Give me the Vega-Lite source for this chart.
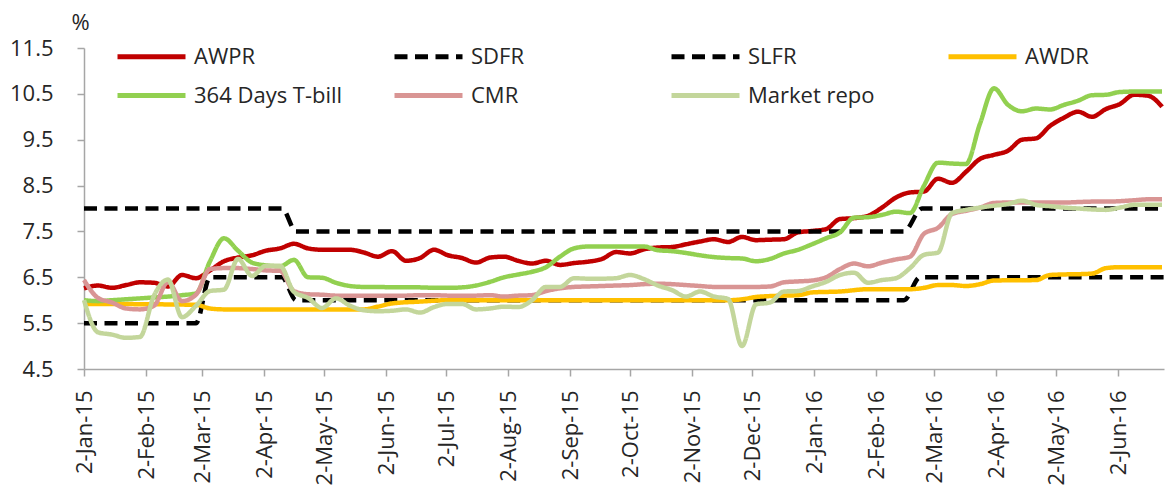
{
  "$schema": "https://vega.github.io/schema/vega-lite/v6.json",
  "width": 1080,
  "height": 321,
  "autosize": {"type": "none"},
  "padding": {"left": 84, "top": 48, "right": 1, "bottom": 120},
  "background": "white",
  "config": {"view": {"stroke": null}, "font": "Open Sans"},
  "data": {"values": [
    {"date":"2015-01-02","series":"AWPR","value":6.26},{"date":"2015-01-09","series":"AWPR","value":6.32},{"date":"2015-01-16","series":"AWPR","value":6.27},{"date":"2015-01-23","series":"AWPR","value":6.33},{"date":"2015-01-30","series":"AWPR","value":6.39},{"date":"2015-02-06","series":"AWPR","value":6.38},{"date":"2015-02-13","series":"AWPR","value":6.30},{"date":"2015-02-20","series":"AWPR","value":6.55},{"date":"2015-02-27","series":"AWPR","value":6.48},{"date":"2015-03-06","series":"AWPR","value":6.65},{"date":"2015-03-13","series":"AWPR","value":6.85},{"date":"2015-03-20","series":"AWPR","value":6.93},{"date":"2015-03-27","series":"AWPR","value":6.98},{"date":"2015-04-03","series":"AWPR","value":7.08},{"date":"2015-04-10","series":"AWPR","value":7.13},{"date":"2015-04-17","series":"AWPR","value":7.23},{"date":"2015-04-24","series":"AWPR","value":7.13},{"date":"2015-05-01","series":"AWPR","value":7.10},{"date":"2015-05-08","series":"AWPR","value":7.10},{"date":"2015-05-15","series":"AWPR","value":7.10},{"date":"2015-05-22","series":"AWPR","value":7.04},{"date":"2015-05-29","series":"AWPR","value":6.95},{"date":"2015-06-05","series":"AWPR","value":7.07},{"date":"2015-06-12","series":"AWPR","value":6.86},{"date":"2015-06-19","series":"AWPR","value":6.92},{"date":"2015-06-26","series":"AWPR","value":7.10},{"date":"2015-07-03","series":"AWPR","value":6.98},{"date":"2015-07-10","series":"AWPR","value":6.92},{"date":"2015-07-17","series":"AWPR","value":6.82},{"date":"2015-07-24","series":"AWPR","value":6.93},{"date":"2015-07-31","series":"AWPR","value":6.95},{"date":"2015-08-07","series":"AWPR","value":6.86},{"date":"2015-08-14","series":"AWPR","value":6.80},{"date":"2015-08-21","series":"AWPR","value":6.86},{"date":"2015-08-28","series":"AWPR","value":6.77},{"date":"2015-09-04","series":"AWPR","value":6.81},{"date":"2015-09-11","series":"AWPR","value":6.84},{"date":"2015-09-18","series":"AWPR","value":6.90},{"date":"2015-09-25","series":"AWPR","value":7.05},{"date":"2015-10-02","series":"AWPR","value":7.02},{"date":"2015-10-09","series":"AWPR","value":7.11},{"date":"2015-10-16","series":"AWPR","value":7.15},{"date":"2015-10-23","series":"AWPR","value":7.16},{"date":"2015-10-30","series":"AWPR","value":7.22},{"date":"2015-11-06","series":"AWPR","value":7.28},{"date":"2015-11-13","series":"AWPR","value":7.33},{"date":"2015-11-20","series":"AWPR","value":7.27},{"date":"2015-11-27","series":"AWPR","value":7.38},{"date":"2015-12-04","series":"AWPR","value":7.31},{"date":"2015-12-11","series":"AWPR","value":7.32},{"date":"2015-12-18","series":"AWPR","value":7.33},{"date":"2015-12-25","series":"AWPR","value":7.48},{"date":"2016-01-01","series":"AWPR","value":7.51},{"date":"2016-01-08","series":"AWPR","value":7.55},{"date":"2016-01-15","series":"AWPR","value":7.77},{"date":"2016-01-22","series":"AWPR","value":7.79},{"date":"2016-01-29","series":"AWPR","value":7.84},{"date":"2016-02-05","series":"AWPR","value":8.02},{"date":"2016-02-12","series":"AWPR","value":8.24},{"date":"2016-02-19","series":"AWPR","value":8.35},{"date":"2016-02-26","series":"AWPR","value":8.37},{"date":"2016-03-04","series":"AWPR","value":8.65},{"date":"2016-03-11","series":"AWPR","value":8.56},{"date":"2016-03-18","series":"AWPR","value":8.80},{"date":"2016-03-25","series":"AWPR","value":9.08},{"date":"2016-04-01","series":"AWPR","value":9.17},{"date":"2016-04-08","series":"AWPR","value":9.26},{"date":"2016-04-15","series":"AWPR","value":9.50},{"date":"2016-04-22","series":"AWPR","value":9.53},{"date":"2016-04-29","series":"AWPR","value":9.80},{"date":"2016-05-06","series":"AWPR","value":9.98},{"date":"2016-05-13","series":"AWPR","value":10.11},{"date":"2016-05-20","series":"AWPR","value":10.00},{"date":"2016-05-27","series":"AWPR","value":10.17},{"date":"2016-06-03","series":"AWPR","value":10.28},{"date":"2016-06-10","series":"AWPR","value":10.48},{"date":"2016-06-17","series":"AWPR","value":10.46},{"date":"2016-06-24","series":"AWPR","value":10.22},

    {"date":"2015-01-02","series":"SDFR","value":5.5},{"date":"2015-02-27","series":"SDFR","value":5.5},{"date":"2015-03-06","series":"SDFR","value":6.5},{"date":"2015-04-11","series":"SDFR","value":6.5},{"date":"2015-04-18","series":"SDFR","value":6.0},{"date":"2016-02-16","series":"SDFR","value":6.0},{"date":"2016-02-24","series":"SDFR","value":6.5},{"date":"2016-06-25","series":"SDFR","value":6.5},

    {"date":"2015-01-02","series":"SLFR","value":8.0},{"date":"2015-04-11","series":"SLFR","value":8.0},{"date":"2015-04-18","series":"SLFR","value":7.5},{"date":"2016-02-16","series":"SLFR","value":7.5},{"date":"2016-02-25","series":"SLFR","value":8.0},{"date":"2016-06-25","series":"SLFR","value":8.0},

    {"date":"2015-01-02","series":"AWDR","value":5.92},{"date":"2015-02-27","series":"AWDR","value":5.90},{"date":"2015-03-06","series":"AWDR","value":5.82},{"date":"2015-03-13","series":"AWDR","value":5.80},{"date":"2015-05-22","series":"AWDR","value":5.80},{"date":"2015-05-29","series":"AWDR","value":5.86},{"date":"2015-06-05","series":"AWDR","value":5.93},{"date":"2015-06-19","series":"AWDR","value":5.97},{"date":"2015-07-03","series":"AWDR","value":6.00},{"date":"2015-11-20","series":"AWDR","value":6.00},{"date":"2015-11-27","series":"AWDR","value":6.02},{"date":"2015-12-04","series":"AWDR","value":6.07},{"date":"2015-12-11","series":"AWDR","value":6.09},{"date":"2015-12-18","series":"AWDR","value":6.10},{"date":"2015-12-25","series":"AWDR","value":6.11},{"date":"2016-01-01","series":"AWDR","value":6.17},{"date":"2016-01-15","series":"AWDR","value":6.19},{"date":"2016-01-29","series":"AWDR","value":6.24},{"date":"2016-02-19","series":"AWDR","value":6.24},{"date":"2016-02-26","series":"AWDR","value":6.27},{"date":"2016-03-04","series":"AWDR","value":6.33},{"date":"2016-03-11","series":"AWDR","value":6.33},{"date":"2016-03-18","series":"AWDR","value":6.31},{"date":"2016-03-25","series":"AWDR","value":6.35},{"date":"2016-04-01","series":"AWDR","value":6.43},{"date":"2016-04-22","series":"AWDR","value":6.44},{"date":"2016-04-29","series":"AWDR","value":6.55},{"date":"2016-05-20","series":"AWDR","value":6.58},{"date":"2016-05-27","series":"AWDR","value":6.70},{"date":"2016-06-03","series":"AWDR","value":6.72},{"date":"2016-06-24","series":"AWDR","value":6.72},

    {"date":"2015-01-02","series":"364 Days T-bill","value":6.00},{"date":"2015-01-09","series":"364 Days T-bill","value":5.98},{"date":"2015-01-16","series":"364 Days T-bill","value":6.00},{"date":"2015-01-23","series":"364 Days T-bill","value":6.02},{"date":"2015-01-30","series":"364 Days T-bill","value":6.04},{"date":"2015-02-06","series":"364 Days T-bill","value":6.06},{"date":"2015-02-13","series":"364 Days T-bill","value":6.08},{"date":"2015-02-20","series":"364 Days T-bill","value":6.11},{"date":"2015-02-27","series":"364 Days T-bill","value":6.15},{"date":"2015-03-06","series":"364 Days T-bill","value":6.85},{"date":"2015-03-13","series":"364 Days T-bill","value":7.35},{"date":"2015-03-20","series":"364 Days T-bill","value":7.08},{"date":"2015-03-27","series":"364 Days T-bill","value":6.82},{"date":"2015-04-03","series":"364 Days T-bill","value":6.76},{"date":"2015-04-10","series":"364 Days T-bill","value":6.74},{"date":"2015-04-17","series":"364 Days T-bill","value":6.88},{"date":"2015-04-24","series":"364 Days T-bill","value":6.50},{"date":"2015-05-01","series":"364 Days T-bill","value":6.49},{"date":"2015-05-08","series":"364 Days T-bill","value":6.38},{"date":"2015-05-15","series":"364 Days T-bill","value":6.31},{"date":"2015-05-22","series":"364 Days T-bill","value":6.29},{"date":"2015-05-29","series":"364 Days T-bill","value":6.29},{"date":"2015-06-05","series":"364 Days T-bill","value":6.28},{"date":"2015-06-12","series":"364 Days T-bill","value":6.28},{"date":"2015-06-19","series":"364 Days T-bill","value":6.28},{"date":"2015-06-26","series":"364 Days T-bill","value":6.27},{"date":"2015-07-03","series":"364 Days T-bill","value":6.27},{"date":"2015-07-10","series":"364 Days T-bill","value":6.28},{"date":"2015-07-17","series":"364 Days T-bill","value":6.32},{"date":"2015-07-24","series":"364 Days T-bill","value":6.40},{"date":"2015-07-31","series":"364 Days T-bill","value":6.50},{"date":"2015-08-07","series":"364 Days T-bill","value":6.56},{"date":"2015-08-14","series":"364 Days T-bill","value":6.62},{"date":"2015-08-21","series":"364 Days T-bill","value":6.72},{"date":"2015-08-28","series":"364 Days T-bill","value":6.95},{"date":"2015-09-04","series":"364 Days T-bill","value":7.13},{"date":"2015-09-11","series":"364 Days T-bill","value":7.17},{"date":"2015-09-18","series":"364 Days T-bill","value":7.17},{"date":"2015-09-25","series":"364 Days T-bill","value":7.17},{"date":"2015-10-02","series":"364 Days T-bill","value":7.17},{"date":"2015-10-09","series":"364 Days T-bill","value":7.17},{"date":"2015-10-16","series":"364 Days T-bill","value":7.09},{"date":"2015-10-23","series":"364 Days T-bill","value":7.07},{"date":"2015-10-30","series":"364 Days T-bill","value":7.03},{"date":"2015-11-06","series":"364 Days T-bill","value":6.98},{"date":"2015-11-13","series":"364 Days T-bill","value":6.94},{"date":"2015-11-20","series":"364 Days T-bill","value":6.92},{"date":"2015-11-27","series":"364 Days T-bill","value":6.91},{"date":"2015-12-04","series":"364 Days T-bill","value":6.85},{"date":"2015-12-11","series":"364 Days T-bill","value":6.90},{"date":"2015-12-18","series":"364 Days T-bill","value":7.02},{"date":"2015-12-25","series":"364 Days T-bill","value":7.10},{"date":"2016-01-01","series":"364 Days T-bill","value":7.22},{"date":"2016-01-08","series":"364 Days T-bill","value":7.35},{"date":"2016-01-15","series":"364 Days T-bill","value":7.48},{"date":"2016-01-22","series":"364 Days T-bill","value":7.80},{"date":"2016-01-29","series":"364 Days T-bill","value":7.81},{"date":"2016-02-05","series":"364 Days T-bill","value":7.86},{"date":"2016-02-12","series":"364 Days T-bill","value":7.93},{"date":"2016-02-19","series":"364 Days T-bill","value":7.90},{"date":"2016-02-26","series":"364 Days T-bill","value":8.50},{"date":"2016-03-04","series":"364 Days T-bill","value":9.00},{"date":"2016-03-11","series":"364 Days T-bill","value":8.98},{"date":"2016-03-18","series":"364 Days T-bill","value":8.97},{"date":"2016-03-25","series":"364 Days T-bill","value":9.85},{"date":"2016-04-01","series":"364 Days T-bill","value":10.62},{"date":"2016-04-08","series":"364 Days T-bill","value":10.26},{"date":"2016-04-15","series":"364 Days T-bill","value":10.12},{"date":"2016-04-22","series":"364 Days T-bill","value":10.18},{"date":"2016-04-29","series":"364 Days T-bill","value":10.16},{"date":"2016-05-06","series":"364 Days T-bill","value":10.26},{"date":"2016-05-13","series":"364 Days T-bill","value":10.35},{"date":"2016-05-20","series":"364 Days T-bill","value":10.47},{"date":"2016-05-27","series":"364 Days T-bill","value":10.48},{"date":"2016-06-03","series":"364 Days T-bill","value":10.54},{"date":"2016-06-10","series":"364 Days T-bill","value":10.55},{"date":"2016-06-17","series":"364 Days T-bill","value":10.55},{"date":"2016-06-24","series":"364 Days T-bill","value":10.55},

    {"date":"2015-01-02","series":"CMR","value":6.44},{"date":"2015-01-09","series":"CMR","value":6.05},{"date":"2015-01-16","series":"CMR","value":5.95},{"date":"2015-01-23","series":"CMR","value":5.82},{"date":"2015-01-30","series":"CMR","value":5.80},{"date":"2015-02-06","series":"CMR","value":5.88},{"date":"2015-02-13","series":"CMR","value":6.40},{"date":"2015-02-20","series":"CMR","value":5.98},{"date":"2015-02-27","series":"CMR","value":6.12},{"date":"2015-03-06","series":"CMR","value":6.68},{"date":"2015-03-13","series":"CMR","value":6.70},{"date":"2015-03-20","series":"CMR","value":6.70},{"date":"2015-03-27","series":"CMR","value":6.68},{"date":"2015-04-03","series":"CMR","value":6.65},{"date":"2015-04-10","series":"CMR","value":6.64},{"date":"2015-04-17","series":"CMR","value":6.20},{"date":"2015-04-24","series":"CMR","value":6.13},{"date":"2015-05-01","series":"CMR","value":6.12},{"date":"2015-05-08","series":"CMR","value":6.10},{"date":"2015-05-15","series":"CMR","value":6.10},{"date":"2015-05-22","series":"CMR","value":6.10},{"date":"2015-05-29","series":"CMR","value":6.10},{"date":"2015-06-05","series":"CMR","value":6.10},{"date":"2015-06-12","series":"CMR","value":6.10},{"date":"2015-06-19","series":"CMR","value":6.11},{"date":"2015-06-26","series":"CMR","value":6.11},{"date":"2015-07-03","series":"CMR","value":6.10},{"date":"2015-07-10","series":"CMR","value":6.10},{"date":"2015-07-17","series":"CMR","value":6.10},{"date":"2015-07-24","series":"CMR","value":6.11},{"date":"2015-07-31","series":"CMR","value":6.08},{"date":"2015-08-07","series":"CMR","value":6.10},{"date":"2015-08-14","series":"CMR","value":6.11},{"date":"2015-08-21","series":"CMR","value":6.20},{"date":"2015-08-28","series":"CMR","value":6.26},{"date":"2015-09-04","series":"CMR","value":6.29},{"date":"2015-09-11","series":"CMR","value":6.30},{"date":"2015-09-18","series":"CMR","value":6.31},{"date":"2015-09-25","series":"CMR","value":6.32},{"date":"2015-10-02","series":"CMR","value":6.33},{"date":"2015-10-09","series":"CMR","value":6.35},{"date":"2015-10-16","series":"CMR","value":6.36},{"date":"2015-10-23","series":"CMR","value":6.35},{"date":"2015-10-30","series":"CMR","value":6.33},{"date":"2015-11-06","series":"CMR","value":6.31},{"date":"2015-11-13","series":"CMR","value":6.29},{"date":"2015-11-20","series":"CMR","value":6.29},{"date":"2015-11-27","series":"CMR","value":6.29},{"date":"2015-12-04","series":"CMR","value":6.29},{"date":"2015-12-11","series":"CMR","value":6.30},{"date":"2015-12-18","series":"CMR","value":6.39},{"date":"2015-12-25","series":"CMR","value":6.41},{"date":"2016-01-01","series":"CMR","value":6.43},{"date":"2016-01-08","series":"CMR","value":6.50},{"date":"2016-01-15","series":"CMR","value":6.68},{"date":"2016-01-22","series":"CMR","value":6.80},{"date":"2016-01-29","series":"CMR","value":6.74},{"date":"2016-02-05","series":"CMR","value":6.82},{"date":"2016-02-12","series":"CMR","value":6.89},{"date":"2016-02-19","series":"CMR","value":6.95},{"date":"2016-02-26","series":"CMR","value":7.45},{"date":"2016-03-04","series":"CMR","value":7.58},{"date":"2016-03-11","series":"CMR","value":7.88},{"date":"2016-03-18","series":"CMR","value":7.95},{"date":"2016-03-25","series":"CMR","value":8.02},{"date":"2016-04-01","series":"CMR","value":8.12},{"date":"2016-04-08","series":"CMR","value":8.13},{"date":"2016-04-15","series":"CMR","value":8.13},{"date":"2016-04-22","series":"CMR","value":8.13},{"date":"2016-04-29","series":"CMR","value":8.13},{"date":"2016-05-06","series":"CMR","value":8.13},{"date":"2016-05-13","series":"CMR","value":8.14},{"date":"2016-05-20","series":"CMR","value":8.15},{"date":"2016-05-27","series":"CMR","value":8.15},{"date":"2016-06-03","series":"CMR","value":8.16},{"date":"2016-06-10","series":"CMR","value":8.18},{"date":"2016-06-17","series":"CMR","value":8.20},{"date":"2016-06-24","series":"CMR","value":8.20},

    {"date":"2015-01-02","series":"Market repo","value":6.00},{"date":"2015-01-09","series":"Market repo","value":5.30},{"date":"2015-01-16","series":"Market repo","value":5.25},{"date":"2015-01-23","series":"Market repo","value":5.18},{"date":"2015-01-30","series":"Market repo","value":5.20},{"date":"2015-02-06","series":"Market repo","value":6.10},{"date":"2015-02-13","series":"Market repo","value":6.45},{"date":"2015-02-20","series":"Market repo","value":5.63},{"date":"2015-02-27","series":"Market repo","value":5.88},{"date":"2015-03-06","series":"Market repo","value":6.20},{"date":"2015-03-13","series":"Market repo","value":6.23},{"date":"2015-03-20","series":"Market repo","value":6.90},{"date":"2015-03-27","series":"Market repo","value":6.53},{"date":"2015-04-03","series":"Market repo","value":6.75},{"date":"2015-04-10","series":"Market repo","value":6.75},{"date":"2015-04-17","series":"Market repo","value":6.18},{"date":"2015-04-24","series":"Market repo","value":6.05},{"date":"2015-05-01","series":"Market repo","value":5.83},{"date":"2015-05-08","series":"Market repo","value":6.04},{"date":"2015-05-15","series":"Market repo","value":5.88},{"date":"2015-05-22","series":"Market repo","value":5.78},{"date":"2015-05-29","series":"Market repo","value":5.76},{"date":"2015-06-05","series":"Market repo","value":5.77},{"date":"2015-06-12","series":"Market repo","value":5.80},{"date":"2015-06-19","series":"Market repo","value":5.73},{"date":"2015-06-26","series":"Market repo","value":5.85},{"date":"2015-07-03","series":"Market repo","value":5.92},{"date":"2015-07-10","series":"Market repo","value":5.92},{"date":"2015-07-17","series":"Market repo","value":5.80},{"date":"2015-07-24","series":"Market repo","value":5.82},{"date":"2015-07-31","series":"Market repo","value":5.86},{"date":"2015-08-07","series":"Market repo","value":5.85},{"date":"2015-08-14","series":"Market repo","value":6.00},{"date":"2015-08-21","series":"Market repo","value":6.29},{"date":"2015-08-28","series":"Market repo","value":6.29},{"date":"2015-09-04","series":"Market repo","value":6.48},{"date":"2015-09-11","series":"Market repo","value":6.47},{"date":"2015-09-18","series":"Market repo","value":6.47},{"date":"2015-09-25","series":"Market repo","value":6.48},{"date":"2015-10-02","series":"Market repo","value":6.55},{"date":"2015-10-09","series":"Market repo","value":6.46},{"date":"2015-10-16","series":"Market repo","value":6.32},{"date":"2015-10-23","series":"Market repo","value":6.22},{"date":"2015-10-30","series":"Market repo","value":6.08},{"date":"2015-11-06","series":"Market repo","value":6.19},{"date":"2015-11-13","series":"Market repo","value":6.08},{"date":"2015-11-20","series":"Market repo","value":6.03},{"date":"2015-11-27","series":"Market repo","value":5.00},{"date":"2015-12-04","series":"Market repo","value":5.91},{"date":"2015-12-11","series":"Market repo","value":5.95},{"date":"2015-12-18","series":"Market repo","value":6.19},{"date":"2015-12-25","series":"Market repo","value":6.20},{"date":"2016-01-01","series":"Market repo","value":6.30},{"date":"2016-01-08","series":"Market repo","value":6.40},{"date":"2016-01-15","series":"Market repo","value":6.55},{"date":"2016-01-22","series":"Market repo","value":6.60},{"date":"2016-01-29","series":"Market repo","value":6.38},{"date":"2016-02-05","series":"Market repo","value":6.44},{"date":"2016-02-12","series":"Market repo","value":6.48},{"date":"2016-02-19","series":"Market repo","value":6.70},{"date":"2016-02-26","series":"Market repo","value":6.99},{"date":"2016-03-04","series":"Market repo","value":7.04},{"date":"2016-03-11","series":"Market repo","value":7.90},{"date":"2016-03-18","series":"Market repo","value":7.97},{"date":"2016-03-25","series":"Market repo","value":8.02},{"date":"2016-04-01","series":"Market repo","value":8.06},{"date":"2016-04-08","series":"Market repo","value":8.10},{"date":"2016-04-15","series":"Market repo","value":8.17},{"date":"2016-04-22","series":"Market repo","value":8.08},{"date":"2016-04-29","series":"Market repo","value":8.05},{"date":"2016-05-06","series":"Market repo","value":8.02},{"date":"2016-05-13","series":"Market repo","value":8.00},{"date":"2016-05-20","series":"Market repo","value":7.98},{"date":"2016-05-27","series":"Market repo","value":7.97},{"date":"2016-06-03","series":"Market repo","value":8.02},{"date":"2016-06-10","series":"Market repo","value":8.08},{"date":"2016-06-17","series":"Market repo","value":8.08},{"date":"2016-06-24","series":"Market repo","value":8.08}
  ]},
  "mark": {"type": "line", "interpolate": "monotone", "strokeWidth": 4.5, "strokeCap": "butt", "strokeJoin": "round"},
  "encoding": {
    "x": {
      "field": "date", "type": "temporal",
      "scale": {"type": "utc", "domain": [{"year": 2015, "month": 1, "date": 2, "utc": true}, {"year": 2016, "month": 6, "date": 25, "utc": true}]},
      "axis": {
        "title": null,
        "values": [
          {"year": 2015, "month": 1, "date": 2, "utc": true},{"year": 2015, "month": 2, "date": 2, "utc": true},{"year": 2015, "month": 3, "date": 2, "utc": true},{"year": 2015, "month": 4, "date": 2, "utc": true},{"year": 2015, "month": 5, "date": 2, "utc": true},{"year": 2015, "month": 6, "date": 2, "utc": true},{"year": 2015, "month": 7, "date": 2, "utc": true},{"year": 2015, "month": 8, "date": 2, "utc": true},{"year": 2015, "month": 9, "date": 2, "utc": true},{"year": 2015, "month": 10, "date": 2, "utc": true},{"year": 2015, "month": 11, "date": 2, "utc": true},{"year": 2015, "month": 12, "date": 2, "utc": true},{"year": 2016, "month": 1, "date": 2, "utc": true},{"year": 2016, "month": 2, "date": 2, "utc": true},{"year": 2016, "month": 3, "date": 2, "utc": true},{"year": 2016, "month": 4, "date": 2, "utc": true},{"year": 2016, "month": 5, "date": 2, "utc": true},{"year": 2016, "month": 6, "date": 2, "utc": true}
        ],
        "format": "%-d-%b-%y",
        "labelAngle": -90,
        "labelFontSize": 22,
        "labelColor": "#262626",
        "labelPadding": 14,
        "labelOverlap": false,
        "labelFlush": false,
        "tickSize": 7,
        "tickWidth": 1.5,
        "tickColor": "#a6a6a6",
        "domainColor": "#a6a6a6",
        "domainWidth": 1.5,
        "grid": false
      }
    },
    "y": {
      "field": "value", "type": "quantitative",
      "scale": {"domain": [4.5, 11.5], "nice": false, "zero": false},
      "axis": {
        "values": [4.5, 5.5, 6.5, 7.5, 8.5, 9.5, 10.5, 11.5],
        "format": ".1f",
        "title": "%",
        "titleAngle": 0,
        "titleX": -4,
        "titleY": -26,
        "titleAlign": "center",
        "titleBaseline": "middle",
        "titleFontSize": 22,
        "titleFontWeight": "normal",
        "titleColor": "#262626",
        "labelFontSize": 22,
        "labelColor": "#262626",
        "labelPadding": 24,
        "labelFlush": false,
        "tickSize": 7,
        "tickWidth": 1.5,
        "tickColor": "#a6a6a6",
        "domainColor": "#a6a6a6",
        "domainWidth": 1.5,
        "grid": false
      }
    },
    "color": {
      "field": "series", "type": "nominal",
      "scale": {
        "domain": ["AWPR", "SDFR", "SLFR", "AWDR", "364 Days T-bill", "CMR", "Market repo"],
        "range": ["#C00000", "#000000", "#000000", "#FFC000", "#92D050", "#D99594", "#C3D69B"]
      },
      "legend": {"title": null, "orient": "none", "legendX": 48, "legendY": -11, "columns": 4, "direction": "horizontal", "gridAlign": "all", "columnPadding": 41, "rowPadding": 8, "symbolType": "M-2,0H2", "symbolSize": 1156, "symbolStrokeWidth": 5, "labelFontSize": 22, "labelColor": "#262626", "labelOffset": 23, "labelLimit": 300}
    },
    "strokeDash": {
      "field": "series", "type": "nominal",
      "scale": {
        "domain": ["AWPR", "SDFR", "SLFR", "AWDR", "364 Days T-bill", "CMR", "Market repo"],
        "range": [[1, 0], [13, 7.5], [13, 7.5], [1, 0], [1, 0], [1, 0], [1, 0]]
      },
      "legend": {"title": null, "orient": "none", "legendX": 48, "legendY": -11, "columns": 4, "direction": "horizontal", "gridAlign": "all", "columnPadding": 41, "rowPadding": 8, "symbolType": "M-2,0H2", "symbolSize": 1156, "symbolStrokeWidth": 5, "labelFontSize": 22, "labelColor": "#262626", "labelOffset": 23, "labelLimit": 300}
    }
  }
}
